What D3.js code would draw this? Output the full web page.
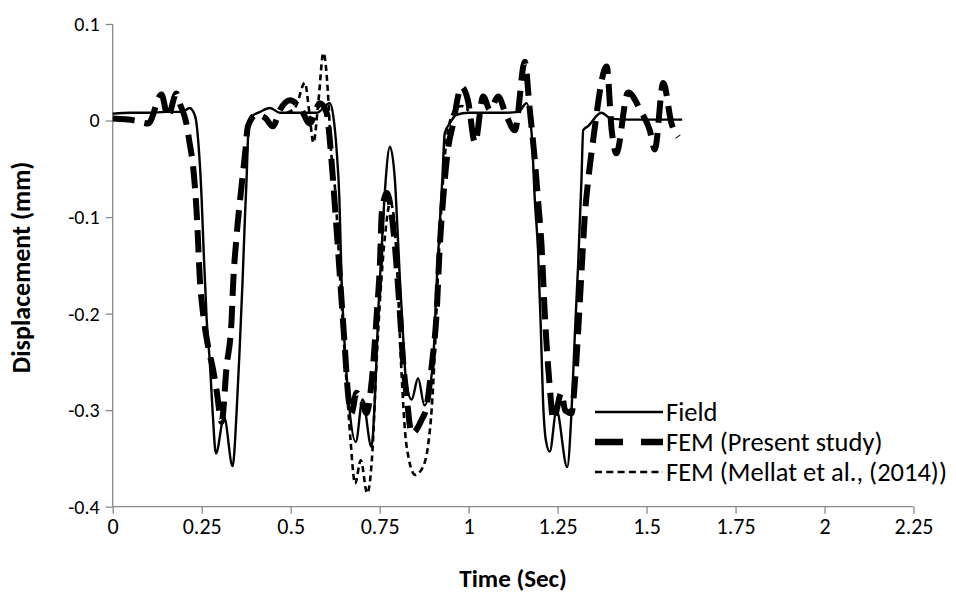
<!DOCTYPE html>
<html>
<head>
<meta charset="utf-8">
<script src="https://cdn.jsdelivr.net/npm/d3@7"></script>
<style>
  html, body { margin: 0; padding: 0; background: #fff; }
  svg { display: block; }
  text { font-family: Carlito, Lato, "Open Sans", sans-serif; fill: #000; }
</style>
</head>
<body>
<svg id="chart" width="956" height="597"></svg>
<script>
// ---------------- DATA ----------------
const xTicks = [0, 0.25, 0.5, 0.75, 1, 1.25, 1.5, 1.75, 2, 2.25];
const xTickLabels = ["0", "0.25", "0.5", "0.75", "1", "1.25", "1.5", "1.75", "2", "2.25"];
const yTicks = [0.1, 0, -0.1, -0.2, -0.3, -0.4];
const yTickLabels = ["0.1", "0", "-0.1", "-0.2", "-0.3", "-0.4"];

const seriesNames = ["Field", "FEM (Present study)", "FEM (Mellat et al., (2014))"];

// Field measurement (time s, displacement mm)
const fieldTime = [0, 0.05, 0.1, 0.15, 0.197, 0.216, 0.232, 0.24, 0.25, 0.255, 0.264, 0.273, 0.281, 0.29, 0.313, 0.337, 0.348, 0.357, 0.365, 0.372, 0.376, 0.381, 0.39, 0.414, 0.442, 0.47, 0.52, 0.573, 0.61, 0.62, 0.629, 0.637, 0.643, 0.652, 0.662, 0.683, 0.702, 0.727, 0.737, 0.746, 0.756, 0.765, 0.779, 0.793, 0.798, 0.807, 0.815, 0.824, 0.84, 0.858, 0.876, 0.9, 0.91, 0.92, 0.926, 0.933, 0.947, 0.966, 1.0, 1.05, 1.1, 1.14, 1.163, 1.177, 1.186, 1.195, 1.203, 1.209, 1.217, 1.228, 1.247, 1.277, 1.289, 1.299, 1.308, 1.317, 1.322, 1.335, 1.373, 1.4, 1.45, 1.5, 1.55, 1.6];
const fieldDisp = [0.007, 0.008, 0.008, 0.009, 0.009, 0.013, 0.004, -0.02, -0.082, -0.13, -0.206, -0.251, -0.303, -0.345, -0.307, -0.358, -0.303, -0.234, -0.165, -0.096, -0.062, -0.013, 0.004, 0.009, 0.013, 0.008, 0.008, 0.008, 0.018, 0.004, -0.03, -0.082, -0.165, -0.234, -0.286, -0.333, -0.289, -0.338, -0.286, -0.2, -0.13, -0.072, -0.027, -0.062, -0.096, -0.165, -0.217, -0.269, -0.289, -0.267, -0.295, -0.25, -0.17, -0.1, -0.062, -0.013, -0.003, 0.006, 0.008, 0.008, 0.008, 0.009, 0.018, -0.013, -0.082, -0.134, -0.217, -0.289, -0.331, -0.343, -0.3, -0.359, -0.303, -0.217, -0.147, -0.062, -0.01, -0.006, 0.008, 0.002, 0.001, 0.001, 0.001, 0.001];

// FEM present study
const femTime = [0, 0.062, 0.1, 0.137, 0.155, 0.179, 0.188, 0.207, 0.216, 0.226, 0.236, 0.245, 0.254, 0.268, 0.282, 0.292, 0.306, 0.32, 0.334, 0.338, 0.348, 0.362, 0.372, 0.38, 0.404, 0.428, 0.45, 0.47, 0.498, 0.527, 0.554, 0.582, 0.601, 0.61, 0.619, 0.639, 0.652, 0.662, 0.671, 0.685, 0.699, 0.713, 0.728, 0.742, 0.751, 0.756, 0.77, 0.793, 0.807, 0.815, 0.826, 0.84, 0.868, 0.882, 0.896, 0.91, 0.919, 0.929, 0.942, 0.956, 0.98, 0.998, 1.018, 1.041, 1.06, 1.083, 1.105, 1.13, 1.158, 1.171, 1.185, 1.195, 1.205, 1.214, 1.228, 1.238, 1.261, 1.271, 1.289, 1.299, 1.308, 1.317, 1.327, 1.336, 1.35, 1.388, 1.402, 1.415, 1.448, 1.486, 1.509, 1.523, 1.547, 1.57, 1.589];
const femDisp = [0.002, 0.0, -0.003, 0.027, 0.004, 0.028, 0.018, -0.003, -0.023, -0.048, -0.096, -0.165, -0.2, -0.234, -0.258, -0.28, -0.312, -0.255, -0.207, -0.172, -0.12, -0.068, -0.034, -0.006, 0.006, 0.003, -0.006, 0.011, 0.021, 0.013, -0.003, 0.018, 0.008, -0.02, -0.062, -0.165, -0.234, -0.286, -0.303, -0.282, -0.29, -0.303, -0.269, -0.2, -0.147, -0.096, -0.075, -0.13, -0.2, -0.245, -0.286, -0.324, -0.31, -0.296, -0.255, -0.2, -0.13, -0.079, -0.03, -0.004, 0.035, 0.021, -0.023, 0.025, 0.011, 0.025, 0.006, -0.01, 0.061, 0.0145, -0.037, -0.082, -0.13, -0.2, -0.276, -0.31, -0.282, -0.3, -0.303, -0.269, -0.217, -0.158, -0.096, -0.062, -0.02, 0.056, -0.01, -0.034, 0.029, 0.008, -0.01, -0.03, 0.039, -0.003, -0.017];

// FEM Mellat et al. (2014)
const mellatTime = [0.49, 0.515, 0.54, 0.552, 0.564, 0.578, 0.592, 0.606, 0.612, 0.625, 0.64, 0.655, 0.668, 0.681, 0.697, 0.715, 0.73, 0.74, 0.752, 0.765, 0.78, 0.79, 0.8, 0.81, 0.826, 0.85, 0.87, 0.887, 0.896, 0.905, 0.915, 0.925, 0.935, 0.945, 0.96, 0.98, 1.0];
const mellatDisp = [0.008, 0.015, 0.039, 0.01, -0.023, 0.02, 0.07, 0.021, -0.023, -0.072, -0.17, -0.26, -0.33, -0.376, -0.352, -0.386, -0.341, -0.26, -0.18, -0.12, -0.085, -0.1, -0.16, -0.25, -0.338, -0.367, -0.36, -0.334, -0.3, -0.24, -0.15, -0.08, -0.03, -0.005, 0.01, 0.015, 0.01];

// ---------------- CHART ----------------
const svg = d3.select("#chart");
const axisColor = "#898989";

const x = d3.scaleLinear().domain([0, 2.25]).range([112.7, 913.5]);
const y = d3.scaleLinear().domain([-0.4, 0.1]).range([506.7, 24]);

// axes
const gx = svg.append("g").attr("transform", `translate(0,${y(-0.4)})`)
  .call(d3.axisBottom(x).tickValues(xTicks).tickSize(7).tickPadding(5)
    .tickFormat((d, i) => xTickLabels[i]));
const gy = svg.append("g").attr("transform", `translate(${x(0)},0)`)
  .call(d3.axisLeft(y).tickValues(yTicks).tickSize(7).tickPadding(6)
    .tickFormat((d, i) => yTickLabels[i]));
[gx, gy].forEach(g => {
  g.select(".domain").attr("stroke", axisColor).attr("stroke-width", 1.3);
  g.selectAll(".tick line").attr("stroke", axisColor).attr("stroke-width", 1.3);
  g.selectAll(".tick text").attr("fill", "#000")
    .style("font-family", "Carlito, Lato, sans-serif");
});
gx.selectAll(".tick text").style("font-size", "22px");
gy.selectAll(".tick text").style("font-size", "20px");
gx.select(".domain").attr("d", `M${x(0)},0H${x(2.25)}`);
gy.select(".domain").attr("d", `M0,${y(-0.4)}V${y(0.1)}`);

// lines
const mk = (ts, vs) => ts.map((t, i) => [t, vs[i]]);
const line = d3.line().x(d => x(d[0])).y(d => y(d[1])).curve(d3.curveMonotoneX);

const styles = [
  { w: 2.4, dash: null },
  { w: 6, dash: "22,10" },
  { w: 2.6, dash: "6,4" }
];

svg.append("path").datum(mk(femTime, femDisp)).attr("d", line)
  .attr("fill", "none").attr("stroke", "#000").attr("stroke-width", styles[1].w)
  .attr("stroke-dasharray", styles[1].dash);
svg.append("path").datum(mk(mellatTime, mellatDisp)).attr("d", line)
  .attr("fill", "none").attr("stroke", "#000").attr("stroke-width", styles[2].w)
  .attr("stroke-dasharray", styles[2].dash);
svg.append("path").datum(mk(fieldTime, fieldDisp)).attr("d", line)
  .attr("fill", "none").attr("stroke", "#000").attr("stroke-width", styles[0].w);

// legend
const leg = svg.append("g");
const legY = [412, 442, 472];
seriesNames.forEach((name, i) => {
  leg.append("line").attr("x1", 595).attr("x2", 663).attr("y1", legY[i]).attr("y2", legY[i])
    .attr("stroke", "#000").attr("stroke-width", i === 1 ? 6.5 : 2.4)
    .attr("stroke-dasharray", i === 1 ? "28,18" : (i === 2 ? "7,4.3" : null));
  leg.append("text").attr("x", 666).attr("y", legY[i]).attr("dy", "0.35em")
    .style("font-size", "26.5px").text(name);
});

// axis titles
svg.append("text").attr("x", (x(0) + x(2.25)) / 2).attr("y", 587)
  .attr("text-anchor", "middle").style("font-size", "25px").style("font-weight", "bold")
  .text("Time (Sec)");
svg.append("text").attr("transform", `translate(30,${(y(0.1) + y(-0.4)) / 2 + 2}) rotate(-90)`)
  .attr("text-anchor", "middle").style("font-size", "26px").style("font-weight", "bold")
  .text("Displacement (mm)");
</script>
</body>
</html>
